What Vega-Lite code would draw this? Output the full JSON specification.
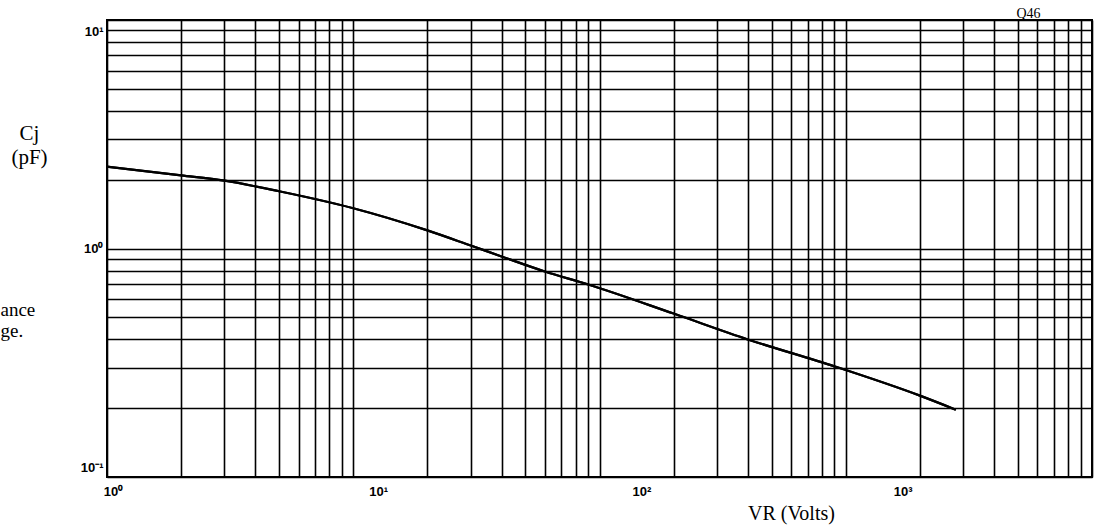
{
  "$schema": "https://vega.github.io/schema/vega-lite/v6.json",
  "autosize": {"type": "none"},
  "width": 985,
  "height": 457,
  "padding": {"left": 107, "top": 20, "right": 6, "bottom": 48},
  "background": "#ffffff",
  "config": {
    "view": {"stroke": "#000000", "strokeWidth": 2},
    "axis": {"gridColor": "#000000", "gridOpacity": 1, "gridWidth": 1.6, "ticks": false, "domain": false}
  },
  "data": {
    "values": [
      {"V": 1, "C": 2.28},
      {"V": 2, "C": 2.09},
      {"V": 3, "C": 1.98},
      {"V": 5, "C": 1.78},
      {"V": 10, "C": 1.5},
      {"V": 20, "C": 1.2},
      {"V": 30, "C": 1.03},
      {"V": 40, "C": 0.923},
      {"V": 60, "C": 0.793},
      {"V": 90, "C": 0.696},
      {"V": 200, "C": 0.519},
      {"V": 400, "C": 0.4},
      {"V": 900, "C": 0.305},
      {"V": 2000, "C": 0.227},
      {"V": 2800, "C": 0.197}
    ]
  },
  "resolve": {"axis": {"x": "independent", "y": "independent"}},
  "layer": [
    {
      "mark": {"type": "line", "color": "#000000", "strokeWidth": 2.2, "interpolate": "monotone"},
      "encoding": {
        "x": {
          "field": "V",
          "type": "quantitative",
          "scale": {"type": "log", "domain": [1, 10000], "nice": false},
          "axis": {
            "values": [1,2,3,4,5,6,7,8,9,10,20,30,40,50,60,70,80,90,100,200,300,400,500,600,700,800,900,1000,2000,3000,4000,5000,6000,7000,8000,9000,10000],
            "labelExpr": "datum.value == 1 ? '10⁰' : datum.value == 10 ? '10¹' : datum.value == 100 ? '10²' : datum.value == 1000 ? '10³' : ''",
            "labelOffset": {"expr": "datum.value == 1 ? 6 : datum.value == 10 ? 25 : datum.value == 100 ? 42 : datum.value == 1000 ? 57 : 0"},
            "labelOverlap": false,
            "labelFlush": false,
            "labelPadding": 8,
            "labelFont": "Liberation Sans",
            "labelFontWeight": "bold",
            "labelFontSize": 13,
            "labelColor": "#000000",
            "title": "VR (Volts)",
            "titleFont": "Liberation Serif",
            "titleFontSize": 20,
            "titleFontWeight": "normal",
            "titleColor": "#000000",
            "titleX": 684,
            "titleY": 36,
            "titleBaseline": "middle"
          }
        },
        "y": {
          "field": "C",
          "type": "quantitative",
          "scale": {"type": "log", "domain": [0.1, 10], "nice": false},
          "axis": {
            "orient": "left",
            "values": [0.1,0.2,0.3,0.4,0.5,0.6,0.7,0.8,0.9,1,2,3,4,5,6,7,8,9,10],
            "labelExpr": "datum.value == 0.1 ? '10⁻¹' : datum.value == 1 ? '10⁰' : datum.value == 10 ? '10¹' : ''",
            "labelOffset": {"expr": "datum.value == 10 ? 11 : datum.value == 0.1 ? -10 : 0"},
            "labelOverlap": false,
            "labelFlush": false,
            "labelPadding": 4,
            "labelFont": "Liberation Sans",
            "labelFontWeight": "bold",
            "labelFontSize": 13,
            "labelColor": "#000000",
            "title": ["Cj", "(pF)"],
            "titleAngle": 0,
            "titleAlign": "center",
            "titleBaseline": "middle",
            "titleX": -78,
            "titleY": 113,
            "titleLineHeight": 24,
            "titleFont": "Liberation Serif",
            "titleFontSize": 21,
            "titleFontWeight": "normal",
            "titleColor": "#000000"
          }
        }
      }
    },
    {
      "mark": {"type": "line", "color": "#000000", "strokeWidth": 2.2, "interpolate": "monotone"},
      "encoding": {
        "x": {
          "field": "V",
          "type": "quantitative",
          "axis": {
            "orient": "top",
            "grid": false,
            "labels": false,
            "title": "Q46",
            "titleFont": "Liberation Serif",
            "titleFontSize": 14,
            "titleFontWeight": "normal",
            "titleColor": "#000000",
            "titleX": 921,
            "titleY": -7,
            "titleAlign": "center",
            "titleBaseline": "middle"
          }
        },
        "y": {
          "field": "C",
          "type": "quantitative",
          "axis": {
            "orient": "left",
            "grid": false,
            "labels": false,
            "title": ["ance", "ge."],
            "titleAngle": 0,
            "titleAlign": "left",
            "titleBaseline": "middle",
            "titleX": -107,
            "titleY": 289,
            "titleLineHeight": 21,
            "titleFont": "Liberation Serif",
            "titleFontSize": 19,
            "titleFontWeight": "normal",
            "titleColor": "#000000"
          }
        }
      }
    }
  ]
}
